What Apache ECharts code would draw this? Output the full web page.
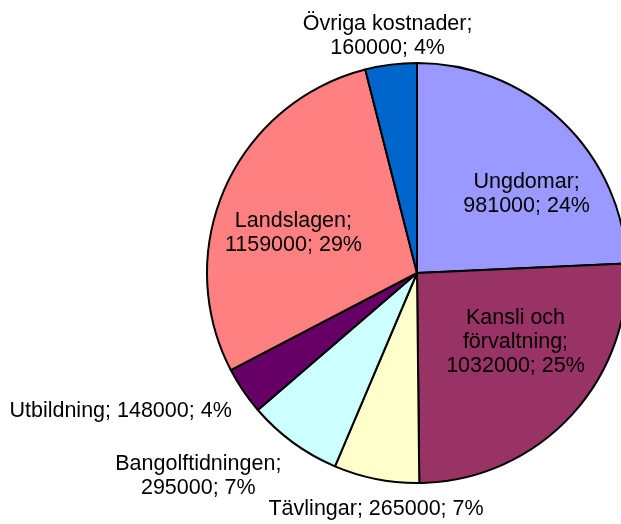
<!DOCTYPE html>
<html>
<head>
<meta charset="utf-8">
<script src="https://cdn.jsdelivr.net/npm/echarts@6/dist/echarts.min.js"></script>
<style>
  html, body { margin: 0; padding: 0; background: #fff; }
  #chart { width: 621px; height: 524px; }
</style>
</head>
<body>
<div id="chart"></div>
<script>
// data
const categories = ['Ungdomar', 'Kansli och\nförvaltning', 'Tävlingar', 'Bangolftidningen',
  'Utbildning', 'Landslagen', 'Övriga kostnader'];
const values = [981000, 1032000, 265000, 295000, 148000, 1159000, 160000];
const percents = [24, 25, 7, 7, 4, 29, 4];

// slice colours (same order as categories)
const sliceColors = ['#9999FF', '#993366', '#FFFFCC', '#CCFFFF', '#660066', '#FF8080', '#0066CC'];
// Utbildning and Tävlingar keep the whole label on one line
const oneLine = [false, false, true, false, true, false, false];
// nudges from the inside label spot to where the label sits in the picture
const labelShift = [[35, -1], [20, -5], [-20, 130], [-155, 116], [-207, 77], [-25, 4], [-16, -130]];

const chart = echarts.init(document.getElementById('chart'));

const option = {
  backgroundColor: '#fff',
  animation: false,
  series: [
    {
      type: 'pie',
      center: [417, 273],
      radius: [0, 210],
      startAngle: 90,
      clockwise: true,
      itemStyle: {
        borderColor: '#000',
        borderWidth: 2
      },
      label: {
        show: true,
        position: 'inside',
        color: '#000',
        fontFamily: 'Liberation Sans, Arial, sans-serif',
        fontSize: 21.5,
        lineHeight: 24,
        formatter: function (p) {
          const i = p.dataIndex;
          const sep = oneLine[i] ? '; ' : ';\n';
          return categories[i] + sep + values[i] + '; ' + percents[i] + '%';
        }
      },
      labelLine: { show: false },
      labelLayout: function (p) {
        const s = labelShift[p.dataIndex];
        return { dx: s[0], dy: s[1] };
      },
      emphasis: { disabled: true },
      data: values.map((v, i) => ({
        name: categories[i],
        value: v,
        itemStyle: { color: sliceColors[i] }
      }))
    }
  ]
};

chart.setOption(option);
</script>
</body>
</html>
